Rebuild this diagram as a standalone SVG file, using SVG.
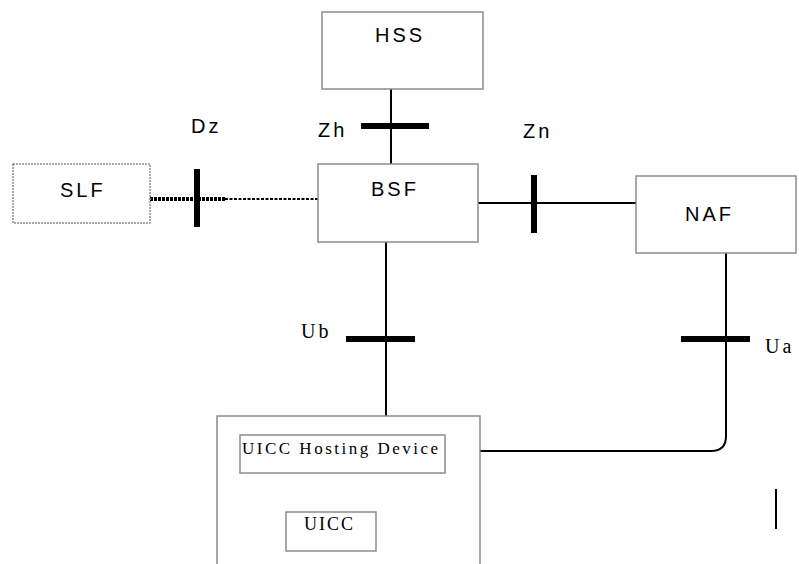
<svg xmlns="http://www.w3.org/2000/svg" width="799" height="564" viewBox="0 0 799 564">
<style>
.box{fill:#fff;stroke:#8c8c8c;stroke-width:1.5}
.sans{font-family:"Liberation Sans",Arial,sans-serif;font-size:20px;fill:#000;letter-spacing:3px}
.serif{font-family:"Liberation Serif","Times New Roman",serif;fill:#000}
.ln{stroke:#000;stroke-width:2;fill:none}
.bar{stroke:#000;stroke-width:6;fill:none}
</style>
<rect width="799" height="564" fill="#fff"/>
<g id="connectors">
  <line class="ln" x1="391" y1="88" x2="391" y2="164"/>
  <line class="bar" x1="361" y1="126" x2="429" y2="126"/>
  <line x1="150" y1="199" x2="225" y2="199" stroke="#000" stroke-width="4" stroke-dasharray="3,1"/>
  <line x1="225" y1="199" x2="318" y2="199" stroke="#000" stroke-width="2" stroke-dasharray="3,1.5"/>
  <line class="bar" x1="197" y1="169" x2="197" y2="227"/>
  <line class="ln" x1="478" y1="203" x2="636" y2="203"/>
  <line class="bar" x1="534" y1="175" x2="534" y2="233"/>
  <line class="ln" x1="386" y1="242" x2="386" y2="416"/>
  <line class="bar" x1="346" y1="339" x2="415" y2="339"/>
  <path class="ln" d="M480,451 H711 Q726,451 726,436 V253"/>
  <line class="bar" x1="681" y1="339" x2="750" y2="339"/>
  <line class="ln" x1="331" y1="473" x2="331" y2="512"/>
  <line class="ln" x1="776" y1="489" x2="776" y2="529"/>
  <text class="sans" x="318" y="137">Zh</text>
  <text class="sans" x="191" y="133">Dz</text>
  <text class="sans" x="523" y="138">Zn</text>
  <text class="serif" x="301" y="338" font-size="20" letter-spacing="3">Ub</text>
  <text class="serif" x="765" y="353" font-size="20" letter-spacing="3">Ua</text>
</g>
<g id="HSS">
  <rect class="box" x="322" y="12" width="161" height="77"/>
  <text class="sans" x="375" y="42">HSS</text>
</g>
<g id="BSF">
  <rect class="box" x="318" y="164" width="160" height="78"/>
  <text class="sans" x="371" y="196">BSF</text>
</g>
<g id="SLF">
  <rect x="13" y="164" width="137" height="59" fill="#fff" stroke="#8c8c8c" stroke-width="1.5" stroke-dasharray="2,1"/>
  <text class="sans" x="60" y="197">SLF</text>
</g>
<g id="NAF">
  <rect class="box" x="636" y="176" width="160" height="77"/>
  <text class="sans" x="685" y="221">NAF</text>
</g>
<g id="UE">
  <path class="box" d="M217,564 V416 H480 V564" fill="none"/>
</g>
<g id="UICCHostingDevice">
  <rect class="box" x="240" y="435" width="205" height="38"/>
  <text class="serif" x="242" y="454" font-size="17" letter-spacing="2.5">UICC Hosting Device</text>
</g>
<g id="UICC">
  <rect class="box" x="286" y="512" width="90" height="39"/>
  <text class="serif" x="304" y="530" font-size="18" letter-spacing="2">UICC</text>
</g>
</svg>
